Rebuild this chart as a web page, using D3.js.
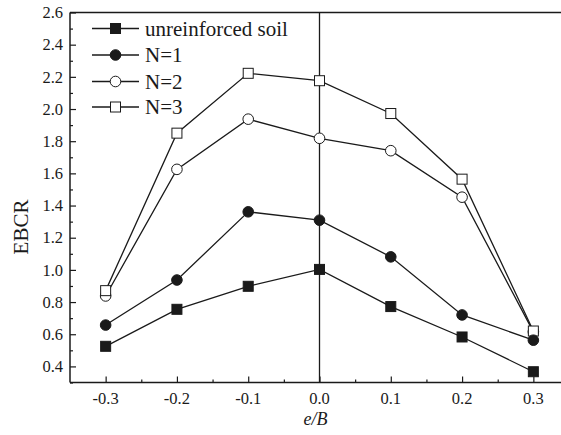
<!DOCTYPE html>
<html>
<head>
<meta charset="utf-8">
<script src="https://cdn.jsdelivr.net/npm/d3@7/dist/d3.min.js"></script>
<style>
  body { margin: 0; background: #fff; }
  svg { display: block; font-family: "Liberation Serif", "DejaVu Serif", serif; }
</style>
</head>
<body>
<div id="chart"></div>
<script>
// e/B positions
const eB = [-0.3, -0.2, -0.1, 0.0, 0.1, 0.2, 0.3];

// EBCR values
const unreinforced = [0.525, 0.755, 0.898, 1.003, 0.772, 0.583, 0.367];
const n1 = [0.657, 0.937, 1.361, 1.309, 1.081, 0.72, 0.563];
const n2 = [0.838, 1.625, 1.937, 1.818, 1.741, 1.452, 0.615];
const n3 = [0.871, 1.85, 2.222, 2.176, 1.972, 1.564, 0.62];

const seriesNames = ["unreinforced soil", "N=1", "N=2", "N=3"];
const yTicks = [0.4, 0.6, 0.8, 1.0, 1.2, 1.4, 1.6, 1.8, 2.0, 2.2, 2.4, 2.6];
const xTicks = [-0.3, -0.2, -0.1, 0.0, 0.1, 0.2, 0.3];

const W = 561, H = 435;
const padLeft = 70, padTop = 12.5, axisY = 382.5;
const ink = "#1a1a1a";

// the original figure is cropped on the right, so the x range runs past the canvas
const x = d3.scaleLinear().domain([-0.35, 0.35]).range([padLeft, padLeft + 499]);
const y = d3.scaleLinear().domain([0.3, 2.6]).range([axisY, padTop]);

const svg = d3.select("#chart").append("svg")
  .attr("width", W)
  .attr("height", H);

// top frame line
svg.append("line")
  .attr("x1", padLeft).attr("x2", W)
  .attr("y1", padTop).attr("y2", padTop)
  .attr("stroke", ink).attr("stroke-width", 1.3);

// minor ticks
const yMinor = d3.range(0.3, 2.61, 0.2).map(v => +v.toFixed(2));
const xMinor = [-0.25, -0.15, -0.05, 0.05, 0.15, 0.25];

svg.append("g")
  .attr("transform", `translate(${padLeft},0)`)
  .call(d3.axisRight(y).tickValues(yTicks).tickSize(6).tickFormat(""))
  .select(".domain").remove();
svg.append("g")
  .attr("transform", `translate(${padLeft},0)`)
  .call(d3.axisRight(y).tickValues(yMinor).tickSize(3).tickFormat(""))
  .select(".domain").remove();

svg.append("g")
  .attr("transform", `translate(0,${axisY})`)
  .call(d3.axisTop(x).tickValues(xTicks).tickSize(6).tickFormat(""))
  .select(".domain").remove();
svg.append("g")
  .attr("transform", `translate(0,${axisY})`)
  .call(d3.axisTop(x).tickValues(xMinor).tickSize(3).tickFormat(""))
  .select(".domain").remove();

svg.selectAll(".tick line").attr("stroke", ink).attr("stroke-width", 1.2);

svg.append("line")
  .attr("x1", padLeft).attr("x2", padLeft)
  .attr("y1", padTop).attr("y2", axisY)
  .attr("stroke", ink).attr("stroke-width", 1.5);
svg.append("line")
  .attr("x1", padLeft).attr("x2", W)
  .attr("y1", axisY).attr("y2", axisY)
  .attr("stroke", ink).attr("stroke-width", 1.5);

// tick labels
svg.append("g").selectAll("text")
  .data(yTicks)
  .join("text")
  .attr("x", padLeft - 7)
  .attr("y", d => y(d))
  .attr("dy", "0.35em")
  .attr("text-anchor", "end")
  .attr("font-size", 16.5)
  .attr("fill", ink)
  .text(d => d.toFixed(1));

svg.append("g").selectAll("text")
  .data(xTicks)
  .join("text")
  .attr("x", d => x(d))
  .attr("y", axisY + 21)
  .attr("text-anchor", "middle")
  .attr("font-size", 16.5)
  .attr("fill", ink)
  .text(d => d.toFixed(1));

// axis titles
svg.append("text")
  .attr("transform", "translate(28,227) rotate(-90)")
  .attr("text-anchor", "middle")
  .attr("font-size", 21)
  .attr("fill", ink)
  .text("EBCR");

svg.append("text")
  .attr("x", x(0) - 4)
  .attr("y", axisY + 42)
  .attr("text-anchor", "middle")
  .attr("font-size", 18)
  .attr("font-style", "italic")
  .attr("fill", ink)
  .text("e/B");

// vertical line at e/B = 0
svg.append("line")
  .attr("x1", x(0)).attr("x2", x(0))
  .attr("y1", padTop).attr("y2", axisY)
  .attr("stroke", ink).attr("stroke-width", 1.3);

// series
const allSeries = [unreinforced, n1, n2, n3];
const markers = [
  { shape: "square", fill: ink },
  { shape: "circle", fill: ink },
  { shape: "circle", fill: "#fff" },
  { shape: "square", fill: "#fff" }
];

const line = d3.line().x((d, i) => x(eB[i])).y(d => y(d));

function drawMarker(g, cx, cy, m) {
  if (m.shape === "square") {
    g.append("rect")
      .attr("x", cx - 5).attr("y", cy - 5)
      .attr("width", 10).attr("height", 10)
      .attr("fill", m.fill).attr("stroke", ink).attr("stroke-width", 1);
  } else {
    g.append("circle")
      .attr("cx", cx).attr("cy", cy).attr("r", 5.3)
      .attr("fill", m.fill).attr("stroke", ink).attr("stroke-width", 1);
  }
}

// open series first, N=3 squares end up over the N=2 circle at 0.3
[2, 3, 1, 0].forEach(k => {
  const g = svg.append("g");
  g.append("path")
    .datum(allSeries[k])
    .attr("d", line)
    .attr("fill", "none")
    .attr("stroke", ink)
    .attr("stroke-width", 1.3);
  allSeries[k].forEach((v, i) => drawMarker(g, x(eB[i]), y(v), markers[k]));
});

// legend
const legendY = [28.5, 55, 81.5, 107];
seriesNames.forEach((name, k) => {
  const g = svg.append("g");
  g.append("line")
    .attr("x1", 92).attr("x2", 139)
    .attr("y1", legendY[k]).attr("y2", legendY[k])
    .attr("stroke", ink).attr("stroke-width", 1.3);
  drawMarker(g, 115.5, legendY[k], markers[k]);
  g.append("text")
    .attr("x", 145)
    .attr("y", legendY[k])
    .attr("dy", "0.35em")
    .attr("font-size", 21)
    .attr("fill", ink)
    .text(name);
});
</script>
</body>
</html>
